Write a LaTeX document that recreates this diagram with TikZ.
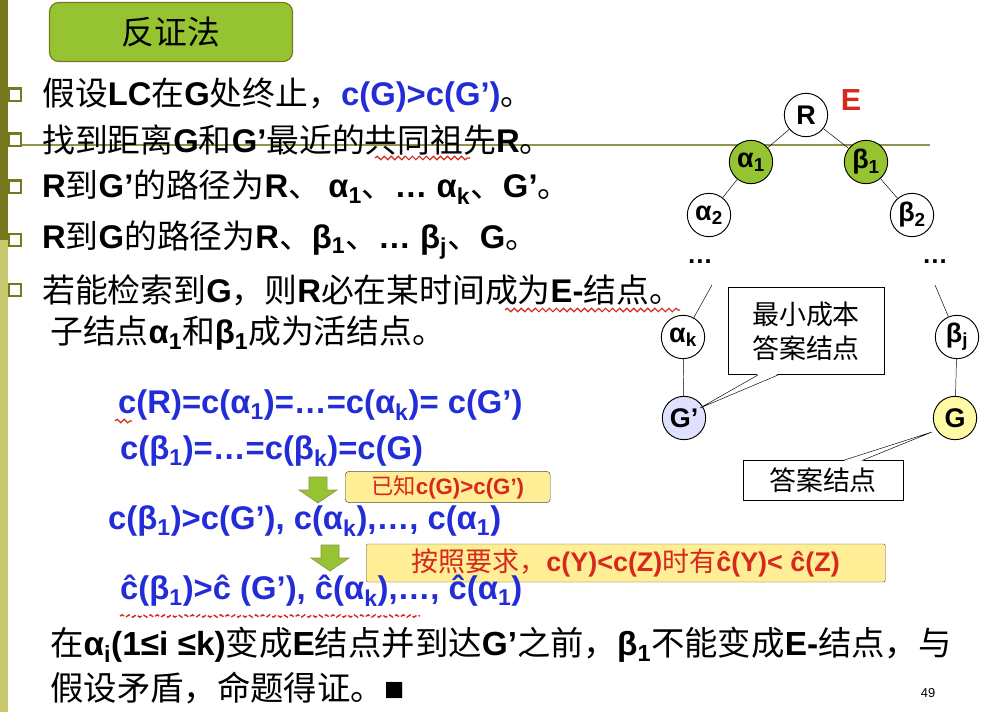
\documentclass[tikz,border=0pt]{standalone}
\usepackage{fontspec}
\setmainfont{Noto Sans CJK SC}
\newfontfamily\lat{Liberation Sans}
\usetikzlibrary{decorations.pathmorphing}
\definecolor{olv}{RGB}{120,120,30}
\definecolor{olvl}{RGB}{200,200,110}
\definecolor{tgreen}{RGB}{150,195,50}
\definecolor{fblue}{RGB}{35,45,215}
\definecolor{nred}{RGB}{215,40,30}
\definecolor{notey}{RGB}{255,238,150}
\newcommand{\B}[1]{{\lat\bfseries #1}}
\newcommand{\sbs}[1]{\textsubscript{#1}}
\begin{document}
\begin{tikzpicture}[x=0.03cm,y=-0.03cm,
  txt/.style={anchor=west,inner sep=0,font=\fontsize{28}{32}\selectfont},
  fml/.style={anchor=west,inner sep=0,text=fblue,font=\lat\bfseries\fontsize{28}{30}\selectfont},
  bul/.style={draw=olv,line width=1.8pt,minimum size=11pt,inner sep=0},
  tn/.style={circle,draw,line width=0.8pt,inner sep=0,font=\lat\bfseries\fontsize{23}{24}\selectfont,minimum size=1.3cm},
  wavy/.style={draw=nred,line width=1pt,decorate,decoration={snake,amplitude=1.5pt,segment length=6pt}},
  note/.style={draw=black!70,rounded corners=3pt,fill=notey,anchor=west,text=nred,font=\fontsize{19}{22}\selectfont},
  darr/.style={draw=olv!80,fill=tgreen,line width=0.6pt}]
\path[use as bounding box] (0,0) rectangle (982,712);
\fill[white] (0,0) rectangle (982,712);
\fill[olv] (0,0) rectangle (8,240);
\fill[olvl] (0,240) rectangle (8,712);
\draw[olv!80,line width=1.3pt] (20,145) -- (930,145);
\node[draw=olv,line width=1pt,rounded corners=8pt,fill=tgreen,minimum width=243*0.03cm,minimum height=59*0.03cm,font=\fontsize{28}{30}\selectfont] (title) at (171,32) {反证法};
\foreach \y/\n in {95/b1,140/b2,187/b3,240/b4,290/b5} \node[bul,fill=white] (\n) at (15,\y) {};
\node[txt] (l1) at (42,95) {假设\B{LC}在\B{G}处终止，\B{\textcolor{fblue}{c(G)>c(G’)}}。};
\node[txt] (l2) at (42,140) {找到距离\B{G}和\B{G’}最近的共同祖先\B{R}。};
\node[txt] (l3) at (42,187) {\B{R}到\B{G’}的路径为\B{R}、 \B{α\sbs{1}}、\B{… α\sbs{k}}、\B{G’}。};
\node[txt] (l4) at (42,240) {\B{R}到\B{G}的路径为\B{R}、\B{β\sbs{1}}、\B{… β\sbs{j}}、\B{G}。};
\node[txt] (l5) at (42,290) {若能检索到\B{G}，则\B{R}必在某时间成为\B{E-}结点。};
\node[txt] (l6) at (50,333) {子结点\B{α\sbs{1}}和\B{β\sbs{1}}成为活结点。};
\draw[wavy] (375,158) -- (470,158);
\draw[wavy] (505,310) -- (680,310);
% tree
\node[tn,fill=white] (R) at (806,115) {R};
\node[text=nred,font=\lat\bfseries\fontsize{26}{28}\selectfont] (E) at (851,100) {E};
\node[tn,fill=tgreen] (a1) at (751,162) {α\sbs{1}};
\node[tn,fill=tgreen] (b1) at (866,162) {β\sbs{1}};
\node[tn,fill=white] (a2) at (709,215) {α\sbs{2}};
\node[tn,fill=white] (b2) at (912,215) {β\sbs{2}};
\node[font=\lat\bfseries\fontsize{22}{24}\selectfont] (d1) at (700,262) {…};
\node[font=\lat\bfseries\fontsize{22}{24}\selectfont] (d2) at (935,262) {…};
\node[tn,fill=white] (ak) at (683,337) {α\sbs{k}};
\node[tn,fill=white] (bj) at (957,337) {β\sbs{j}};
\node[tn,fill=blue!12] (Gp) at (684,418) {G’};
\node[tn,fill=yellow!35] (G) at (955,418) {G};
\coordinate (t1) at (712,285);
\coordinate (t2) at (935,285);
\draw (R) -- (a1); \draw (R) -- (b1); \draw (a1) -- (a2); \draw (b1) -- (b2);
\draw (t1) -- (ak); \draw (t2) -- (bj); \draw (ak) -- (Gp); \draw (bj) -- (G);
\node[draw,fill=white,minimum width=156*0.03cm,minimum height=87*0.03cm,align=center,font=\fontsize{23}{29}\selectfont] (c1) at (806,331) {最小成本\\答案结点};
\coordinate (c1t) at (700,408);
\fill[white] (758,374) -- (c1t) -- (778,374) -- cycle;
\draw (758,375) -- (c1t) -- (778,375);
\node[draw,fill=white,minimum width=160*0.03cm,minimum height=40*0.03cm,font=\fontsize{23}{26}\selectfont] (c2) at (823,480) {答案结点};
\coordinate (c2t) at (932,432);
\fill[white] (843,461) -- (c2t) -- (862,461) -- cycle;
\draw (843,460.5) -- (c2t) -- (862,460.5);
% formulas
\node[fml] (f1) at (118,405) {c(R)=c(α\sbs{1})=…=c(α\sbs{k})= c(G’)};
\draw[wavy] (115,421) -- (132,421);
\node[fml] (f2) at (120,451) {c(β\sbs{1})=…=c(β\sbs{k})=c(G)};
\draw[darr] (309,477) -- (327,477) -- (327,490) -- (337,490) -- (318,503) -- (299,490) -- (309,490) -- cycle;
\node[note,minimum width=205*0.03cm,minimum height=28*0.03cm] (n1) at (345,487) {已知\B{c(G)>c(G’)}};
\node[fml] (f3) at (108,521) {c(β\sbs{1})>c(G’), c(α\sbs{k}),…, c(α\sbs{1})};
\draw[darr] (321,545) -- (339,545) -- (339,558) -- (349,558) -- (330,571) -- (311,558) -- (321,558) -- cycle;
\node[note,rounded corners=1pt,minimum width=519*0.03cm,minimum height=38*0.03cm,font=\fontsize{23}{26}\selectfont] (n2) at (366,563) {按照要求，\B{c(Y)<c(Z)}时有\B{ĉ(Y)< ĉ(Z)}};
\node[fml] (f4) at (120,591) {ĉ(β\sbs{1})>ĉ (G’), ĉ(α\sbs{k}),…, ĉ(α\sbs{1})};
\draw[nred,line width=1.2pt,dash pattern=on 4pt off 2pt,decorate,decoration={snake,amplitude=1pt,segment length=6pt}] (120,616) -- (420,616);
\node[txt,font=\fontsize{28.5}{30}\selectfont] (l7) at (50,645) {在\B{α\sbs{i}(1≤i ≤k)}变成\B{E}结点并到达\B{G’}之前，\B{β\sbs{1}}不能变成\B{E-}结点，与};
\node[txt,font=\fontsize{28.5}{30}\selectfont] (l8) at (50,688) {假设矛盾，命题得证。{\lat ■}};
\node[font=\lat\fontsize{11}{12}\selectfont] (pg) at (928,693) {49};
\end{tikzpicture}
\end{document}
